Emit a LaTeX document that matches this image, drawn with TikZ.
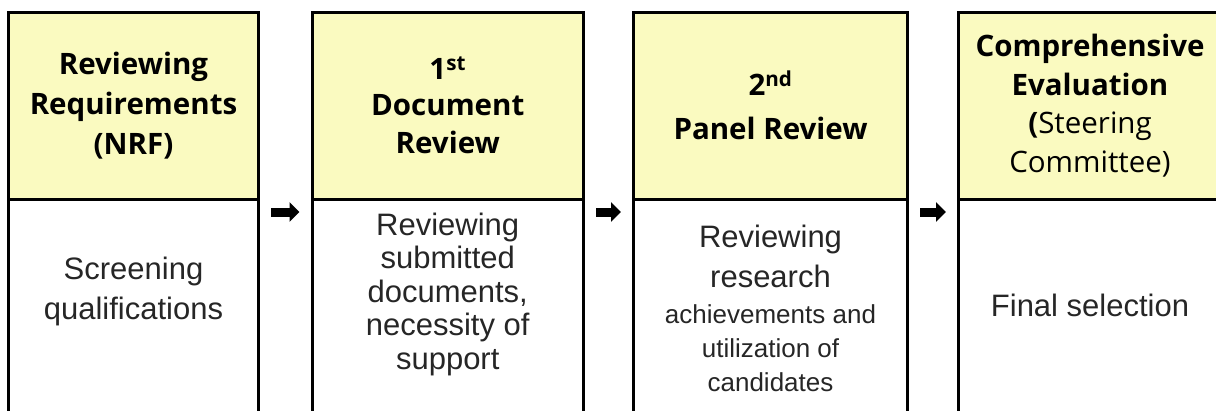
\documentclass[tikz,border=0pt]{standalone}
\usepackage{fontspec}
\setmainfont{Liberation Sans}
\newfontfamily\headfont{Open Sans}[BoldFont={Open Sans Bold}]
\usetikzlibrary{positioning,arrows.meta}
\definecolor{headyellow}{RGB}{250,250,192}
\newcommand{\smalltxt}{\fontsize{26}{34}\selectfont}

\begin{document}
\begin{tikzpicture}[x=1pt,y=-1pt,
	headbox/.style={draw, fill=headyellow, line width=3pt, outer sep=0pt, minimum height=187pt, align=center, font={\headfont\bfseries\fontsize{29.5}{40}\selectfont}},
	bodybox/.style={draw, line width=3pt, outer sep=0pt, minimum height=240pt},
	bodytext/.style={align=center, text=black!85, font={\fontsize{31}{40}\selectfont}},
	flowarrow/.style={line width=9pt, -{Triangle[length=10pt,width=19pt]}, shorten <=12.5pt, shorten >=12.5pt}]
	\useasboundingbox (0,0) rectangle (1216,410);
	% headers
	\node [headbox, minimum width=250pt] (h1) at (133.5,105.5) {Reviewing\\Requirements\\(NRF)};
	\node [headbox, minimum width=271.5pt] (h2) at (447.75,105.5) {1\textsuperscript{st}\\[-4pt]Document\\[-2pt]Review};
	\node [headbox, minimum width=274pt] (h3) at (770.5,105.5) {2\textsuperscript{nd}\\[4pt]Panel Review};
	\node [headbox, minimum width=263pt, font={\headfont\bfseries\fontsize{29.5}{38.5}\selectfont}] (h4) at (1090,105.5) {Comprehensive\\Evaluation\\({\mdseries Steering}\\{\mdseries Committee)}};
	% bodies
	\node [bodybox, minimum width=250pt, below=0pt of h1] (b1) {};
	\node [bodybox, minimum width=271.5pt, below=0pt of h2] (b2) {};
	\node [bodybox, minimum width=274pt, below=0pt of h3] (b3) {};
	\node [bodybox, minimum width=263pt, below=0pt of h4] (b4) {};
	\node [bodytext] (t1) at (133.5,291) {Screening\\qualifications};
	\node [bodytext, font={\fontsize{31}{33.5}\selectfont}] (t2) at (447.75,294) {Reviewing\\submitted\\documents,\\necessity of\\support};
	\node [bodytext] (t3) at (770.5,308) {Reviewing\\research\\[-4pt]{\smalltxt achievements and}\\[-6pt]{\smalltxt utilization of}\\[-6pt]{\smalltxt candidates}};
	\node [bodytext] (t4) at (1090,305) {Final selection};
	% arrows
	\draw [flowarrow] ([yshift=-13pt]b1.north east) -- ([yshift=-13pt]b2.north west);
	\draw [flowarrow] ([yshift=-13pt]b2.north east) -- ([yshift=-13pt]b3.north west);
	\draw [flowarrow] ([yshift=-13pt]b3.north east) -- ([yshift=-13pt]b4.north west);
\end{tikzpicture}
\end{document}
